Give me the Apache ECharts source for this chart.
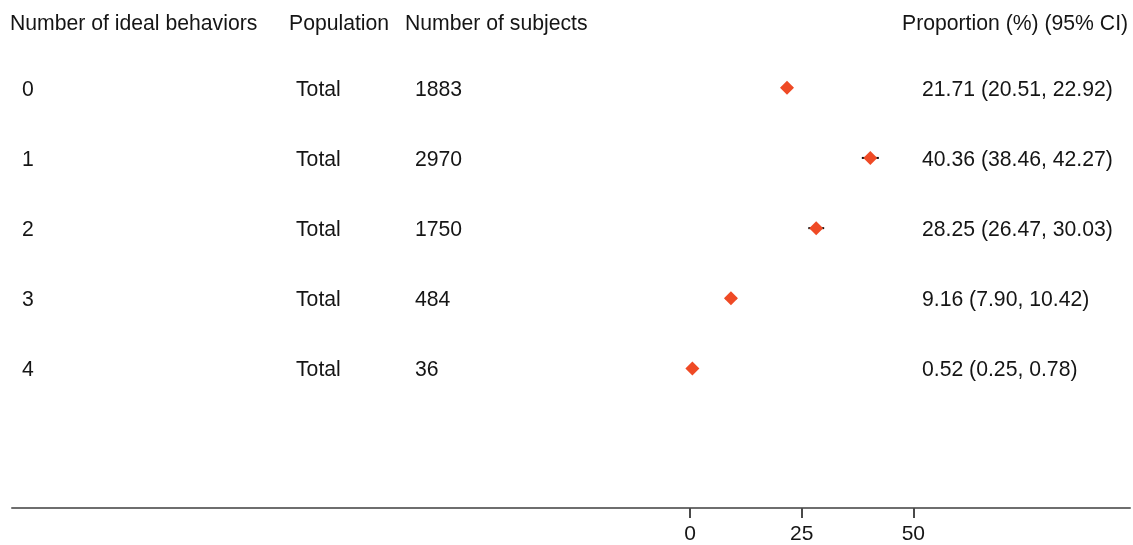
<!DOCTYPE html>
<html>
<head>
<meta charset="utf-8">
<title>Proportion by number of ideal behaviors</title>
<script src="https://cdn.jsdelivr.net/npm/echarts@6/dist/echarts.min.js"></script>
<style>
  html, body { margin: 0; padding: 0; background: #ffffff; }
  #chart { width: 1133px; height: 545px; }
</style>
</head>
<body>
<div id="chart"></div>
<script>
// Table columns
const behaviors = ['0', '1', '2', '3', '4'];
const population = ['Total', 'Total', 'Total', 'Total', 'Total'];
const subjects = [1883, 2970, 1750, 484, 36];

// Proportion (%) with 95% confidence interval
const proportion = [21.71, 40.36, 28.25, 9.16, 0.52];
const ciLower = [20.51, 38.46, 26.47, 7.90, 0.25];
const ciUpper = [22.92, 42.27, 30.03, 10.42, 0.78];

// Column headers and axis tick values
const headers = ['Number of ideal behaviors', 'Population', 'Number of subjects', 'Proportion (%) (95% CI)'];
const axisTicks = [0, 25, 50];

const FONT = '"Liberation Sans", Arial, Helvetica, sans-serif';
const TEXT_COLOR = '#151515';
const MARK_COLOR = '#ef4a25';

const fmt = v => v.toFixed(2);
const ciText = behaviors.map((_, i) =>
  fmt(proportion[i]) + ' (' + fmt(ciLower[i]) + ', ' + fmt(ciUpper[i]) + ')');

const rowIdx = behaviors.map((_, i) => i);

const chart = echarts.init(document.getElementById('chart'), null, { renderer: 'canvas' });

// left edge of each text column, in pixels
const colX = [22, 296, 415, 922];
const headX = [10, 289, 405, 902];

chart.setOption({
  animation: false,
  backgroundColor: '#ffffff',
  grid: { left: 12, right: 3, top: 17.5, bottom: 35, containLabel: false },
  xAxis: {
    type: 'value',
    min: -151.8,
    max: 98.5,
    axisLine: { show: true, onZero: false, lineStyle: { color: '#6e6e6e', width: 2 } },
    axisTick: { show: true, customValues: axisTicks, length: 10, lineStyle: { color: '#4a4a4a', width: 2 } },
    axisLabel: {
      show: true, customValues: axisTicks, margin: 16,
      color: TEXT_COLOR, fontSize: 21, fontFamily: FONT
    },
    splitLine: { show: false }
  },
  yAxis: {
    type: 'value',
    inverse: true,
    min: -1,
    max: 5.986,
    show: false
  },
  graphic: headers.map((h, i) => ({
    type: 'text',
    left: headX[i],
    top: 13.5,
    style: { text: h, fill: TEXT_COLOR, font: '21.2px ' + FONT }
  })),
  series: [
    {
      // table rows
      type: 'custom',
      silent: true,
      data: rowIdx,
      renderItem: function (params, api) {
        const i = api.value(0);
        const y = api.coord([0, i])[1] + 2;
        const cells = [behaviors[i], population[i], String(subjects[i]), ciText[i]];
        return {
          type: 'group',
          children: cells.map((t, c) => ({
            type: 'text',
            x: colX[c],
            y: y,
            style: {
              text: t, fill: TEXT_COLOR, font: '21.2px ' + FONT,
              textAlign: 'left', textVerticalAlign: 'middle'
            }
          }))
        };
      },
      encode: { x: -1, y: 0 },
      z: 1
    },
    {
      // confidence interval whiskers
      type: 'custom',
      silent: true,
      data: rowIdx.map(i => [ciLower[i], ciUpper[i], i]),
      renderItem: function (params, api) {
        const p1 = api.coord([api.value(0), api.value(2)]);
        const p2 = api.coord([api.value(1), api.value(2)]);
        return {
          type: 'line',
          shape: { x1: p1[0], y1: p1[1], x2: p2[0], y2: p2[1] },
          style: { stroke: '#111111', lineWidth: 2 }
        };
      },
      encode: { x: [0, 1], y: 2 },
      z: 2
    },
    {
      // point estimates
      type: 'scatter',
      symbol: 'diamond',
      symbolSize: [14, 14],
      itemStyle: { color: MARK_COLOR, opacity: 1 },
      emphasis: { disabled: true },
      data: rowIdx.map(i => [proportion[i], i]),
      z: 3
    }
  ]
});
</script>
</body>
</html>
